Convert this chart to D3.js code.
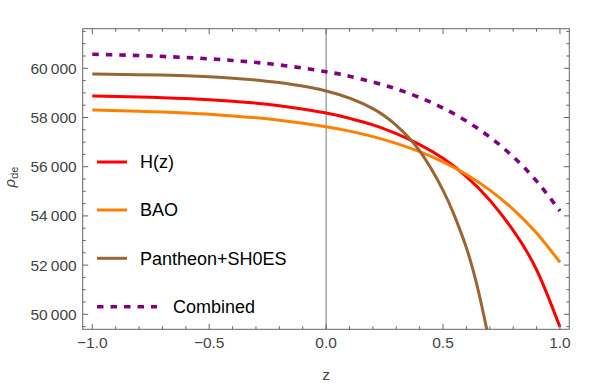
<!DOCTYPE html>
<html>
<head>
<meta charset="utf-8">
<script src="https://cdn.jsdelivr.net/npm/d3@7"></script>
<style>
  body { margin: 0; background: #fff; }
  svg { font-family: "Liberation Sans", Arial, sans-serif; }
</style>
</head>
<body>
<div id="chart"></div>
<script>
// values
var zValues = [-1, -0.8, -0.6, -0.4, -0.2, 0, 0.1, 0.2, 0.3, 0.4, 0.5, 0.6, 0.7, 0.8, 0.9, 1.0];
var hzValues = [58874, 58835, 58770, 58662, 58482, 58183, 57966, 57700, 57340, 56900, 56340, 55600, 54640, 53410, 51810, 49480];
var baoValues = [58305, 58255, 58180, 58065, 57891, 57626, 57445, 57223, 56949, 56610, 56194, 55680, 55046, 54265, 53301, 52114];
var combinedValues = [60570, 60518, 60439, 60319, 60137, 59862, 59675, 59445, 59162, 58813, 58383, 57855, 57204, 56403, 55416, 54200];
var pantheonZ = [-1, -0.6, -0.3, 0, 0.2, 0.3, 0.4, 0.5, 0.55, 0.6, 0.65, 0.7];
var pantheonValues = [59770, 59700, 59520, 59077, 58360, 57680, 56640, 55040, 53980, 52700, 50990, 48800];
var seriesNames = ["H(z)", "BAO", "Pantheon+SH0ES", "Combined"];
var seriesColors = ["#ff0000", "#ff8000", "#996633", "#800080"];
var xTicks = [-1.0, -0.5, 0.0, 0.5, 1.0];
var yTicks = [50000, 52000, 54000, 56000, 58000, 60000];

var width = 600, height = 384;
var margin = { top: 28.7, right: 30.7, bottom: 54.7, left: 82.7 };
var plotW = width - margin.left - margin.right;
var plotH = height - margin.top - margin.bottom;

var xScale = d3.scaleLinear().domain([-1.041, 1.04]).range([0, plotW]);
var yScale = d3.scaleLinear().domain([49390, 61610]).range([plotH, 0]);

var svg = d3.select("#chart").append("svg")
    .attr("width", width).attr("height", height);
var g = svg.append("g")
    .attr("transform", "translate(" + margin.left + "," + margin.top + ")");

g.append("clipPath").attr("id", "clip")
    .append("rect").attr("width", plotW).attr("height", plotH);

// vertical axis line at z = 0
g.append("line")
    .attr("x1", xScale(0)).attr("x2", xScale(0))
    .attr("y1", 0).attr("y2", plotH)
    .attr("stroke", "#777").attr("stroke-width", 1);

var allSeries = [
    { z: zValues, v: hzValues },
    { z: zValues, v: baoValues },
    { z: pantheonZ, v: pantheonValues },
    { z: zValues, v: combinedValues }
];
var line = d3.line()
    .x(function (d) { return xScale(d[0]); })
    .y(function (d) { return yScale(d[1]); })
    .curve(d3.curveNatural);

var curves = g.append("g").attr("clip-path", "url(#clip)");
allSeries.forEach(function (s, i) {
    var pts = s.z.map(function (z, k) { return [z, s.v[k]]; });
    curves.append("path")
        .attr("d", line(pts))
        .attr("fill", "none")
        .attr("stroke", seriesColors[i])
        .attr("stroke-width", i === 3 ? 3.6 : 3)
        .attr("stroke-dasharray", i === 3 ? "6.5,7" : null);
});

// frame ticks (inside, all four sides)
var tickColor = "#666";
var xMinor = d3.range(-10, 11).map(function (k) { return k / 10; });
var yMinor = d3.range(99, 124).map(function (k) { return k * 500; })
    .filter(function (v) { return v >= 49390 && v <= 61610; });
function isMajorX(v) { return Math.abs(v * 2 - Math.round(v * 2)) < 1e-6; }
xMinor.forEach(function (v) {
    var len = isMajorX(v) ? 5.5 : 3;
    [[plotH, plotH - len], [0, len]].forEach(function (p) {
        g.append("line").attr("x1", xScale(v)).attr("x2", xScale(v))
            .attr("y1", p[0]).attr("y2", p[1])
            .attr("stroke", tickColor).attr("stroke-width", 1);
    });
});
yMinor.forEach(function (v) {
    var len = v % 2000 === 0 ? 5.5 : 3;
    [[0, len], [plotW, plotW - len]].forEach(function (p) {
        g.append("line").attr("y1", yScale(v)).attr("y2", yScale(v))
            .attr("x1", p[0]).attr("x2", p[1])
            .attr("stroke", tickColor).attr("stroke-width", 1);
    });
});

g.append("rect")
    .attr("width", plotW).attr("height", plotH)
    .attr("fill", "none").attr("stroke", tickColor).attr("stroke-width", 1);

// tick labels
var labelColor = "#444";
g.selectAll(".xl").data(xTicks).enter().append("text")
    .attr("x", function (d) { return xScale(d); })
    .attr("y", plotH + 19)
    .attr("text-anchor", "middle")
    .attr("font-size", "15.5px").attr("fill", labelColor)
    .text(function (d) { return d3.format(".1f")(d).replace("-", "\u2212"); });

g.selectAll(".yl").data(yTicks).enter().append("text")
    .attr("x", -6)
    .attr("y", function (d) { return yScale(d); })
    .attr("dy", "0.36em")
    .attr("text-anchor", "end")
    .attr("font-size", "15.5px").attr("fill", labelColor)
    .text(function (d) { var s = String(d); return s.slice(0, 2) + "\u2009" + s.slice(2); });

// axis titles
svg.append("text")
    .attr("x", margin.left + xScale(0)).attr("y", 380)
    .attr("text-anchor", "middle")
    .attr("font-size", "15.5px").attr("fill", labelColor)
    .text("z");

var yTitle = svg.append("text")
    .attr("transform", "translate(15,177) rotate(-90)")
    .attr("text-anchor", "middle")
    .attr("font-size", "15px").attr("fill", labelColor);
yTitle.append("tspan").attr("font-style", "italic").text("\u03c1");
yTitle.append("tspan").attr("font-size", "11px").attr("dy", 3).text("de");

// legend
var legend = svg.append("g");
var legendY = [162, 210, 258.3, 306.7];
seriesNames.forEach(function (name, i) {
    var isDash = i === 3;
    legend.append("line")
        .attr("x1", 97).attr("x2", isDash ? 157 : 127)
        .attr("y1", legendY[i]).attr("y2", legendY[i])
        .attr("stroke", seriesColors[i])
        .attr("stroke-width", isDash ? 3.6 : 3)
        .attr("stroke-dasharray", isDash ? "6.5,7" : null);
    legend.append("text")
        .attr("x", isDash ? 173 : 140)
        .attr("y", legendY[i])
        .attr("dy", "0.36em")
        .attr("font-size", "18px").attr("fill", "#000")
        .text(name);
});
</script>
</body>
</html>
